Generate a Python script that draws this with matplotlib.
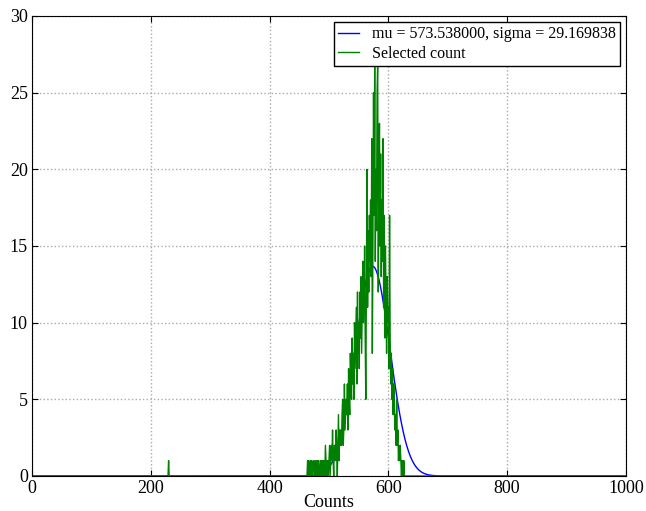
import numpy as np
import matplotlib
matplotlib.use("Agg")
import matplotlib.pyplot as plt

mu = 573.538
sigma = 29.169838
n_samples = 1000

# Selected counts per integer value (nonzero region)
start_x = 460
counts_region = [
    0, 0, 0, 0, 1, 0, 1, 0, 0, 1,
    0, 1, 0, 0, 1, 1, 0, 0, 1, 0,
    1, 0, 1, 1, 0, 0, 1, 0, 1, 1,
    0, 1, 1, 0, 2, 1, 0, 1, 1, 0,
    1, 2, 0, 1, 2, 1, 3, 1, 0, 2,
    2, 1, 3, 2, 0, 2, 4, 1, 3, 2,
    3, 2, 4, 5, 2, 3, 6, 3, 4, 5,
    4, 6, 3, 7, 5, 4, 8, 6, 5, 9,
    6, 8, 5, 10, 7, 9, 11, 6, 12, 8,
    10, 7, 12, 9, 13, 8, 11, 14, 10, 12,
    15, 9, 5, 13, 20, 11, 16, 12, 17, 14,
    18, 13, 22, 8, 15, 25, 17, 27, 14, 20,
    16, 25, 27, 12, 19, 23, 15, 21, 13, 18,
    14, 22, 11, 17, 9, 15, 12, 8, 13, 10,
    11, 7, 17, 9, 6, 8, 5, 7, 4, 6,
    5, 3, 4, 2, 5, 2, 3, 1, 2, 1,
    2, 1, 0, 1, 1, 0, 1, 0, 0, 0,
]
outlier_x = [230]
outlier_counts = [1]

x = np.arange(0, 1001)
counts = np.zeros_like(x, dtype=float)
counts[start_x:start_x + len(counts_region)] = counts_region
for ox, oc in zip(outlier_x, outlier_counts):
    counts[ox] = oc

fit = n_samples / (sigma * np.sqrt(2 * np.pi)) * np.exp(-0.5 * ((x - mu) / sigma) ** 2)

plt.rcParams['font.family'] = ['Liberation Serif', 'DejaVu Serif']
plt.rcParams['xtick.direction'] = 'in'
plt.rcParams['ytick.direction'] = 'in'

fig = plt.figure(figsize=(6.46, 5.11), dpi=100)
ax = fig.add_axes([0.0495, 0.0685, 0.9195, 0.9002])
ax.plot(x, fit, color='#0000ff', lw=1.0, label='mu = %f, sigma = %f' % (mu, sigma))
ax.plot(x, counts, color='#008000', lw=1.0, label='Selected count')
ax.set_xlim(0, 1000)
ax.set_ylim(0, 30)
ax.set_xticks(np.arange(0, 1001, 200))
ax.set_yticks(np.arange(0, 31, 5))
ax.tick_params(labelsize=13, top=True, right=True, length=4)
ax.tick_params(axis='x', pad=3)
ax.tick_params(axis='y', pad=3)
ax.grid(True, linestyle=':', color='#aaaaaa', lw=1.0)
ax.set_xlabel('Counts', fontsize=13, labelpad=-2)
leg = ax.legend(loc='upper right', fontsize=11.5, fancybox=False, framealpha=1,
                edgecolor='black', borderaxespad=0.4, handlelength=1.3,
                handletextpad=0.8, borderpad=0.25, labelspacing=0.2)
leg.get_frame().set_linewidth(1.0)
fig.savefig('out.png', dpi=100)
